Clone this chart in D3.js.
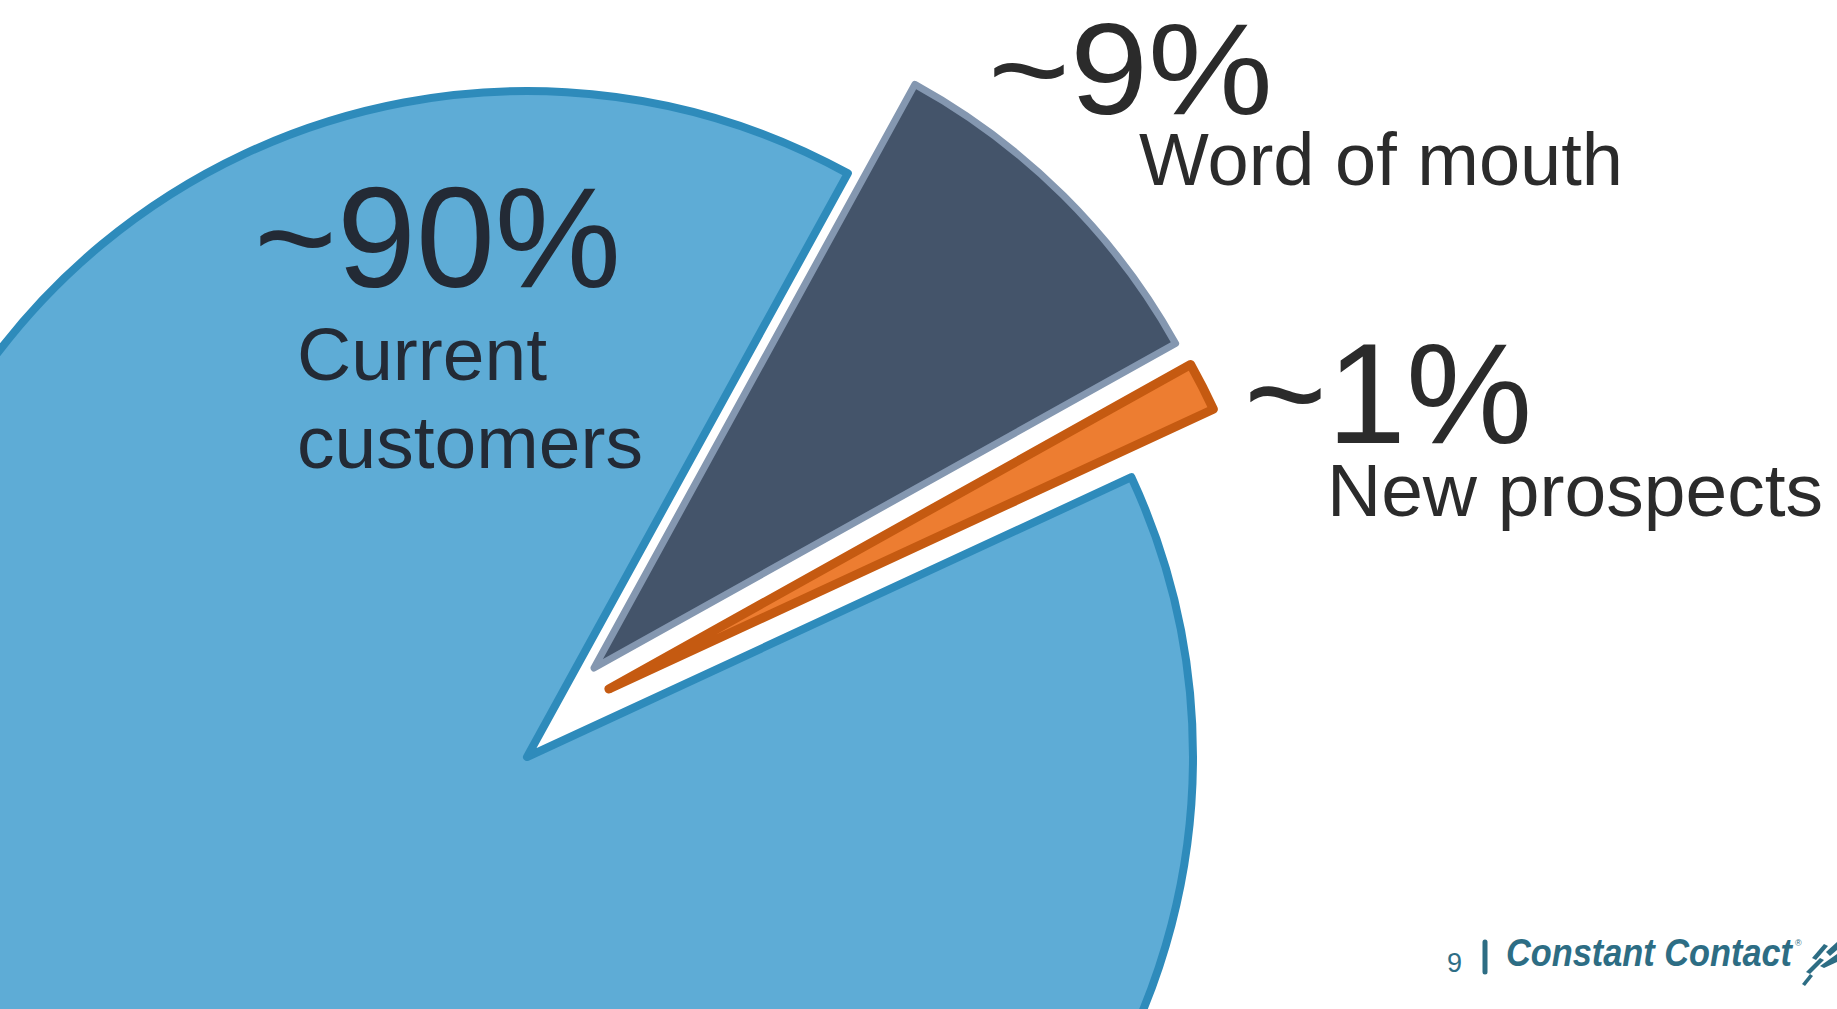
<!DOCTYPE html>
<html lang="en">

<head>
  <meta charset="utf-8">
  <title>Where new business comes from</title>
  <script src="https://d3js.org/d3.v7.min.js"></script>
</head>

<body>
  <div id="chart"></div>

  <style>
    body { margin: 0; background: #fff; overflow: hidden; }
    #chart text { font-family: "Liberation Sans", Arial, sans-serif; }
  </style>

  <script type="text/javascript">
    "use strict"

    var categorias = ["Word of mouth", "New prospects", "Current customers"];
    var valores = [8.9, 1.2, 89.9];
    var rotulosPct = ["~9%", "~1%", "~90%"];

    var larguraSVG = 1837,
        alturaSVG = 1009;

    var centro = {x: 527, y: 757},
        raio = 666,
        inicio = 28.8 * Math.PI / 180;

    // cores e deslocamento (explosao) de cada fatia
    var preenche = ["#44546A", "#ED7D31", "#5EACD6"],
        contorno = ["#8497B0", "#C55A11", "#2E8BBB"],
        largContorno = [7, 9, 8],
        desloca = [[67, -89], [82, -68], [0, 0]];

    var svg = d3.select('#chart')
      .append('svg')
        .attr('width', larguraSVG)
        .attr('height', alturaSVG);

    var pizza = d3.pie()
      .sort(null)
      .value(d => d.valor)
      .startAngle(inicio)
      .endAngle(inicio + 2 * Math.PI);

    var arco = d3.arc()
      .innerRadius(0)
      .outerRadius(raio);

    var dados = categorias.map((c, i) => ({categoria: c, valor: valores[i], i: i}));
    var fatias = pizza(dados);

    // desenha a fatia grande primeiro, depois as destacadas
    var ordem = [2, 0, 1];

    svg.append('g')
      .selectAll('path')
      .data(ordem.map(i => fatias[i]))
      .enter()
        .append('path')
          .attr('transform', d => 'translate(' + (centro.x + desloca[d.data.i][0]) + ',' + (centro.y + desloca[d.data.i][1]) + ')')
          .attr('d', arco)
          .attr('fill', d => preenche[d.data.i])
          .attr('stroke', d => contorno[d.data.i])
          .attr('stroke-width', d => largContorno[d.data.i])
          .attr('stroke-linejoin', 'round');

    /*
    * Rotulos
    */
    var rotulos = svg.append('g');

    // ~90% Current customers (dentro da fatia grande)
    rotulos.append('text')
      .attr('x', 254).attr('y', 287)
      .attr('font-size', 142)
      .attr('fill', '#232A35')
      .text(rotulosPct[2]);

    var linhasCC = ["Current", "customers"];
    rotulos.selectAll('text.cc')
      .data(linhasCC)
      .enter()
        .append('text')
          .attr('class', 'cc')
          .attr('x', 297)
          .attr('y', (d, i) => 380 + i * 88)
          .attr('font-size', 75)
          .attr('fill', '#232A35')
          .text(d => d);

    // ~9% Word of mouth
    rotulos.append('text')
      .attr('x', 988).attr('y', 114)
      .attr('font-size', 130)
      .attr('textLength', 285)
      .attr('lengthAdjust', 'spacingAndGlyphs')
      .attr('fill', '#2B2B2B')
      .text(rotulosPct[0]);

    rotulos.append('text')
      .attr('x', 1139).attr('y', 185)
      .attr('font-size', 74)
      .attr('fill', '#2B2B2B')
      .text(categorias[0]);

    // ~1% New prospects
    rotulos.append('text')
      .attr('x', 1244).attr('y', 443)
      .attr('font-size', 142)
      .attr('fill', '#2B2B2B')
      .text(rotulosPct[1]);

    rotulos.append('text')
      .attr('x', 1327).attr('y', 516)
      .attr('font-size', 75)
      .attr('fill', '#2B2B2B')
      .text(categorias[1]);

    /*
    * Rodape: numero da pagina e logotipo
    */
    var rodape = svg.append('g');
    var corLogo = "#2D6D84";

    rodape.append('text')
      .attr('x', 1447).attr('y', 972)
      .attr('font-size', 27)
      .attr('fill', '#2E6E86')
      .text("9");

    rodape.append('line')
      .attr('x1', 1485).attr('x2', 1485)
      .attr('y1', 942).attr('y2', 972)
      .attr('stroke', corLogo)
      .attr('stroke-width', 5)
      .attr('stroke-linecap', 'round');

    rodape.append('text')
      .attr('x', 1506).attr('y', 966)
      .attr('font-family', '"Open Sans", sans-serif')
      .attr('font-weight', 'bold')
      .attr('font-style', 'italic')
      .attr('font-size', 38)
      .attr('textLength', 286)
      .attr('lengthAdjust', 'spacingAndGlyphs')
      .attr('fill', corLogo)
      .text("Constant Contact");

    rodape.append('text')
      .attr('x', 1795).attr('y', 946)
      .attr('font-size', 9)
      .attr('fill', corLogo)
      .text("®");

    // pequeno simbolo do logotipo (tracos inclinados)
    var tracos = [
      "M1812,958 L1824,944 L1828,946 L1816,960 Z",
      "M1826,952 L1837,942 L1837,950 L1830,956 Z",
      "M1806,972 L1820,958 L1824,960 L1810,974 Z",
      "M1820,966 L1837,954 L1837,962 L1824,968 Z",
      "M1802,984 L1810,974 L1813,976 L1805,986 Z"
    ];
    rodape.selectAll('path.logo')
      .data(tracos)
      .enter()
        .append('path')
          .attr('class', 'logo')
          .attr('d', d => d)
          .attr('fill', corLogo);
  </script>
</body>

</html>
